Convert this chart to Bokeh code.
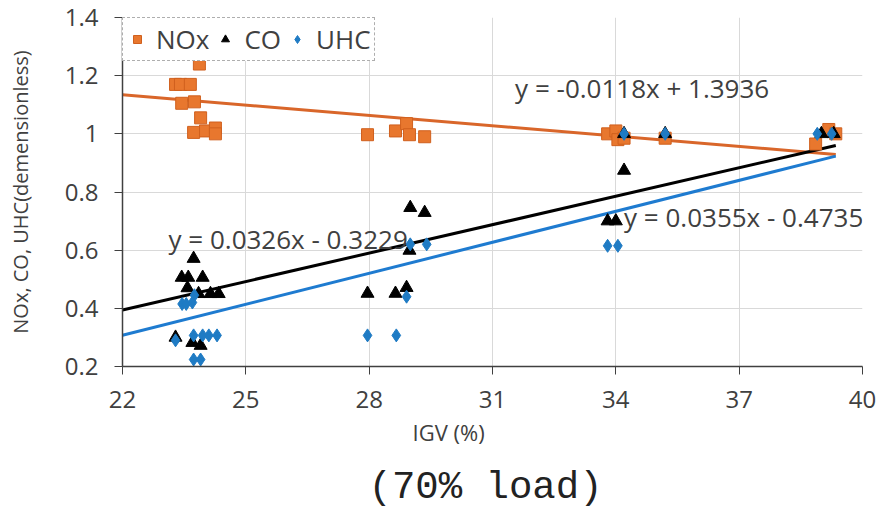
from bokeh.plotting import figure
from bokeh.models import Label, Legend, LegendItem, FixedTicker, Range1d, Title
from bokeh.embed import file_html
from bokeh.resources import INLINE

# ---- data ----
nox_x = [23.29, 23.41, 23.65, 23.87, 23.44, 23.75, 23.90, 23.73, 24.02, 24.26, 24.26,
         27.96, 28.64, 28.91, 28.98, 29.35, 33.80, 34.00, 34.05, 34.20, 35.20, 38.86, 39.18, 39.35]
nox_y = [1.17, 1.17, 1.17, 1.24, 1.105, 1.11, 1.055, 1.005, 1.01, 1.02, 1.00,
         0.997, 1.01, 1.035, 0.997, 0.99, 1.00, 1.01, 0.98, 0.985, 0.985, 0.965, 1.015, 1.00]

co_x = [23.29, 23.44, 23.60, 23.95, 23.73, 23.58, 23.85, 24.14, 24.34, 23.70, 23.90,
        27.96, 28.64, 28.91, 28.98, 29.00, 29.35, 33.80, 34.00, 34.20, 34.20, 35.20, 39.00, 39.30]
co_y = [0.30, 0.506, 0.506, 0.506, 0.571, 0.47, 0.45, 0.45, 0.45, 0.282, 0.272,
        0.451, 0.451, 0.471, 0.599, 0.746, 0.729, 0.70, 0.70, 0.874, 1.00, 1.00, 1.00, 1.00]

uhc_x = [23.45, 23.55, 23.70, 23.75, 23.29, 23.73, 23.95, 24.10, 24.30, 23.73, 23.90,
         27.96, 28.66, 28.91, 29.00, 29.40, 33.80, 34.05, 34.20, 35.20, 38.90, 39.25]
uhc_y = [0.415, 0.415, 0.42, 0.445, 0.29, 0.307, 0.307, 0.307, 0.307, 0.224, 0.224,
         0.307, 0.307, 0.44, 0.62, 0.62, 0.615, 0.615, 1.00, 1.00, 1.00, 1.00]

# trend line coefficients (slope, intercept) as printed on the chart
nox_fit = (-0.0118, 1.3936)
co_fit = (0.0326, -0.3229)
uhc_fit = (0.0355, -0.4735)
fit_x = [22.0, 39.35]

eq_texts = ["y = -0.0118x + 1.3936", "y = 0.0326x - 0.3229", "y = 0.0355x - 0.4735"]
eq_pos = [(31.55, 1.158), (23.12, 0.64), (34.2, 0.715)]

x_ticks = [22, 25, 28, 31, 34, 37, 40]
y_ticks = [0.2, 0.4, 0.6, 0.8, 1.0, 1.2, 1.4]

x_title = "IGV (%)"
y_title = "NOx, CO, UHC(demensionless)"
caption = "(70% load)"

ORANGE = "#E8772E"
ORANGE_LINE = "#D9662A"
BLUE = "#1F7BC4"
BLUE_LINE = "#1E7BD0"
FONT = "Open Sans"
GREY_TXT = "#404040"

p = figure(width=888, height=522, output_backend="svg", toolbar_location=None,
           x_range=Range1d(22, 40), y_range=Range1d(0.2, 1.4),
           min_border_left=122, min_border_right=26, min_border_top=17, min_border_bottom=156)
p.outline_line_color = None
p.background_fill_color = "white"
p.border_fill_color = "white"

# grid
p.xaxis.ticker = FixedTicker(ticks=x_ticks)
p.yaxis.ticker = FixedTicker(ticks=y_ticks)
p.xgrid.grid_line_color = "#D9D9D9"
p.ygrid.grid_line_color = "#D9D9D9"

# axes
for ax in (p.xaxis, p.yaxis):
    ax.axis_line_color = "#404040"
    ax.axis_line_width = 1.5
    ax.major_tick_line_color = "#404040"
    ax.major_tick_out = 8
    ax.major_tick_in = 0
    ax.minor_tick_line_color = None
    ax.major_label_text_font = FONT
    ax.major_label_text_font_size = "24px"
    ax.major_label_text_color = GREY_TXT
    ax.axis_label_text_font = FONT
    ax.axis_label_text_font_style = "normal"
    ax.axis_label_text_color = GREY_TXT

p.yaxis.axis_label = y_title
p.yaxis.axis_label_text_font_size = "20px"
p.xaxis.major_label_standoff = 16
p.yaxis.major_label_standoff = 16
p.yaxis.axis_label_standoff = 28
p.yaxis.major_label_overrides = {1.0: "1"}

# trend lines
p.line(fit_x, [nox_fit[0] * x + nox_fit[1] for x in fit_x], line_color=ORANGE_LINE, line_width=3)
p.line(fit_x, [co_fit[0] * x + co_fit[1] for x in fit_x], line_color="black", line_width=3)
p.line(fit_x, [uhc_fit[0] * x + uhc_fit[1] for x in fit_x], line_color=BLUE_LINE, line_width=3)

# markers
r_nox = p.scatter(nox_x, nox_y, marker="square", size=12, fill_color=ORANGE,
                  line_color="#D0601E", line_width=1)
r_co = p.scatter(co_x, co_y, marker="triangle", size=13, fill_color="black", line_color="black")
r_uhc = p.scatter(uhc_x, uhc_y, marker="diamond", size=13, fill_color=BLUE, line_color=BLUE)

# equations
for t, (ex, ey) in zip(eq_texts, eq_pos):
    p.add_layout(Label(x=ex, y=ey, text=t, text_font=FONT, text_font_size="26px",
                       text_color=GREY_TXT, text_baseline="middle", text_align="left"))

# x-axis title and caption as titles below the plot, slightly left of centre as in the original
t_x = Title(text=x_title, text_font=FONT, text_font_size="22px", text_font_style="normal",
            text_color=GREY_TXT, align="left", offset=290, standoff=8)
p.add_layout(t_x, "below")
t_cap = Title(text=caption, text_font="Liberation Mono", text_font_size="39px",
              text_font_style="normal", text_color="#222222", align="left", offset=246, standoff=26)
p.add_layout(t_cap, "below")

legend = Legend(items=[LegendItem(label="NOx", renderers=[r_nox]),
                       LegendItem(label="CO", renderers=[r_co]),
                       LegendItem(label="UHC", renderers=[r_uhc])],
                orientation="horizontal", location="top_left",
                label_text_font=FONT, label_text_font_size="26px", label_text_color=GREY_TXT,
                border_line_color="#606060", border_line_width=1, border_line_dash="1 1",
                background_fill_alpha=1.0, margin=0, padding=3, spacing=5,
                glyph_width=22, label_standoff=8)
p.add_layout(legend)

open("out.html", "w").write(file_html(p, INLINE))
